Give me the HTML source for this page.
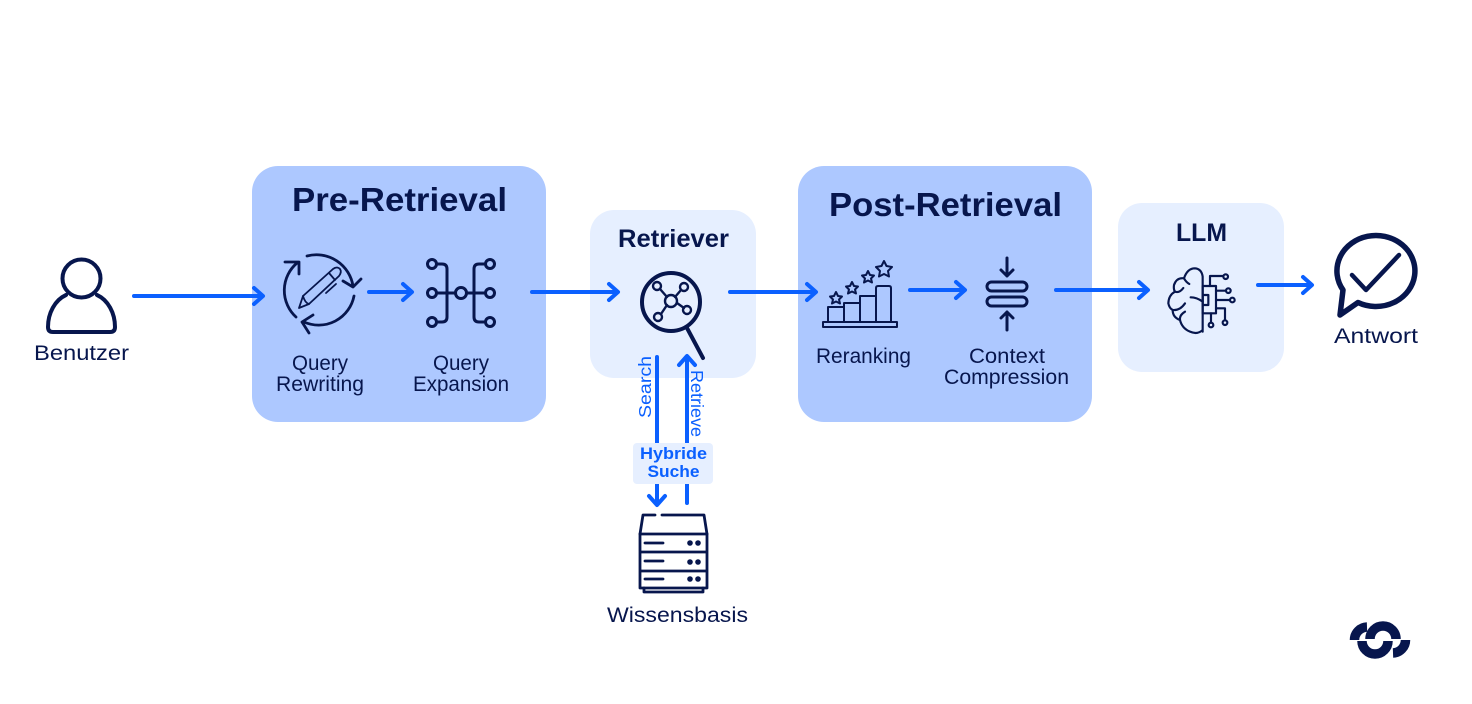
<!DOCTYPE html>
<html><head><meta charset="utf-8"><style>html,body{margin:0;padding:0;background:#fff}svg{display:block}text{font-family:"Liberation Sans",sans-serif;fill:#07164d;text-anchor:middle}.t{font-size:21.5px}.b{font-weight:bold}</style></head><body>
<svg width="1472" height="704" viewBox="0 0 1472 704" xmlns="http://www.w3.org/2000/svg">
<rect width="1472" height="704" fill="#fff"/>
<rect x="252" y="166" width="294" height="256" rx="26" fill="#adc8ff"/>
<rect x="798" y="166" width="294" height="256" rx="26" fill="#adc8ff"/>
<rect x="590" y="210" width="166" height="168" rx="24" fill="#e6efff"/>
<rect x="1118" y="203" width="166" height="169" rx="24" fill="#e6efff"/>

<text x="399.500" y="211" class="b" font-size="33" textLength="215" lengthAdjust="spacingAndGlyphs">Pre-Retrieval</text>
<text x="945.500" y="216" class="b" font-size="33" textLength="233" lengthAdjust="spacingAndGlyphs">Post-Retrieval</text>
<text x="673.500" y="247" class="b" font-size="25" textLength="111" lengthAdjust="spacingAndGlyphs">Retriever</text>
<text x="1201.500" y="241" class="b" font-size="25" textLength="51" lengthAdjust="spacingAndGlyphs">LLM</text>
<text x="81.500" y="360" class="t" textLength="95" lengthAdjust="spacingAndGlyphs">Benutzer</text>
<text x="320" y="370" class="t" textLength="56" lengthAdjust="spacingAndGlyphs">Query</text>
<text x="320" y="391" class="t" textLength="88" lengthAdjust="spacingAndGlyphs">Rewriting</text>
<text x="461" y="370" class="t" textLength="56" lengthAdjust="spacingAndGlyphs">Query</text>
<text x="461" y="391" class="t" textLength="96" lengthAdjust="spacingAndGlyphs">Expansion</text>
<text x="863.500" y="363" class="t" textLength="95" lengthAdjust="spacingAndGlyphs">Reranking</text>
<text x="1007" y="363" class="t" textLength="76" lengthAdjust="spacingAndGlyphs">Context</text>
<text x="1006.500" y="384" class="t" textLength="125" lengthAdjust="spacingAndGlyphs">Compression</text>
<text x="1376" y="343" class="t" textLength="84" lengthAdjust="spacingAndGlyphs">Antwort</text>
<text x="677.500" y="622" class="t" textLength="141" lengthAdjust="spacingAndGlyphs">Wissensbasis</text>

<!-- blue connectors -->
<g fill="none" stroke="#0b60ff" stroke-width="4" stroke-linecap="round" stroke-linejoin="round">
<path d="M134 296H262M254 288L263 296L254 304"/>
<path d="M369 292H411M403 284L412 292L403 300"/>
<path d="M532 292H617M609 284L618 292L609 300"/>
<path d="M730 292H815M807 284L816 292L807 300"/>
<path d="M910 290H964M956 282L965 290L956 298"/>
<path d="M1056 290H1147M1139 282L1148 290L1139 298"/>
<path d="M1258 285H1311M1303 277L1312 285L1303 293"/>
<path d="M657 357V443M657 484V504M649 496L657 505L665 496"/>
<path d="M687 357V443M687 484V503M679 365L687 356L695 365"/>
</g>
<rect x="633" y="443" width="80" height="41" rx="4" fill="#e6efff"/>
<text x="673.500" y="459" class="b" font-size="17" style="fill:#0b60ff" textLength="67" lengthAdjust="spacingAndGlyphs">Hybride</text>
<text x="673.500" y="477" class="b" font-size="17" style="fill:#0b60ff" textLength="52" lengthAdjust="spacingAndGlyphs">Suche</text>
<text transform="translate(651 387) rotate(-90)" font-size="17.500" style="fill:#0b60ff" textLength="62" lengthAdjust="spacingAndGlyphs">Search</text>
<text transform="translate(691 403.500) rotate(90)" font-size="17.500" style="fill:#0b60ff" textLength="67" lengthAdjust="spacingAndGlyphs">Retrieve</text>

<g fill="none" stroke="#07164d" stroke-linecap="round" stroke-linejoin="round">
<!-- user -->
<g stroke-width="4">
<circle cx="81.500" cy="278.500" r="19"/>
<path d="M66 295C55 300 48 313 48 327Q48 332 53 332H110Q115 332 115 327C115 313 108 300 97 295"/>
</g>
<!-- rewrite -->
<g stroke-width="2.800">
<path d="M307 256A37 37 0 0 1 353 286M343 281L353 287L361 279"/>
<path d="M354 296A36 36 0 0 1 304 322M313 315L302 322L309 333"/>
<path d="M296 317A36 36 0 0 1 297 263M285 262L299 262L299 274"/>
</g>
<g stroke-width="1.800">
<path d="M299 308L303 296L333 269Q337 266 340 269Q342 272 339 276L309 304Z"/>
<path d="M303 296Q305 303 309 304M329 273L335 280M336 284L326 293"/>
</g>
<!-- expansion -->
<g stroke-width="3">
<circle cx="432" cy="264" r="4.500"/><circle cx="432" cy="293" r="4.500"/><circle cx="432" cy="322" r="4.500"/>
<circle cx="461" cy="293" r="5.500"/>
<circle cx="490" cy="264" r="4.500"/><circle cx="490" cy="293" r="4.500"/><circle cx="490" cy="322" r="4.500"/>
<path d="M437 264H442Q447 264 447 269V317Q447 322 442 322H437M437 293H455"/>
<path d="M485 264H479Q474 264 474 269V317Q474 322 479 322H485M467 293H485"/>
</g>
<!-- retriever magnifier -->
<circle cx="671" cy="302" r="29" stroke-width="4"/>
<path d="M687 328L703 358" stroke-width="4"/>
<g stroke-width="2.400">
<circle cx="671" cy="301" r="6"/><circle cx="657" cy="286" r="4"/><circle cx="684" cy="287" r="4"/><circle cx="687" cy="310" r="4"/><circle cx="658" cy="317" r="4"/>
<path d="M660 289L667 297M681 290L675 297M684 308L677 303M661 314L667 305"/>
</g>
<!-- server -->
<g stroke-width="2.800">
<path d="M655 515H643L640 534H707L704 515H662"/>
<path d="M640 534V552H707V534M640 552V571H707V552M640 571V588H707V571"/>
<path d="M644 588V592H703V588"/>
<path d="M645 543H663M645 561H663M645 579H663"/>
</g>
<g fill="#07164d" stroke="none">
<circle cx="690" cy="543" r="2.800"/><circle cx="698" cy="543" r="2.800"/><circle cx="690" cy="562" r="2.800"/><circle cx="698" cy="562" r="2.800"/><circle cx="690" cy="579" r="2.800"/><circle cx="698" cy="579" r="2.800"/>
</g>
<!-- reranking -->
<g stroke-width="2">
<rect x="823" y="322" width="74" height="5"/>
<path d="M828 322V307H844V322M844 307V303H860V322M860 303V296H876V322M876 322V288Q876 286 878 286H889Q891 286 891 288V322"/>
<path d="M836 292L838 296L842 296.500L839 299.500L840 303.500L836 301.500L832 303.500L833 299.500L830 296.500L834 296Z"/>
<path d="M852 282L854 286L858 286.500L855 289.500L856 293.500L852 291.500L848 293.500L849 289.500L846 286.500L850 286Z"/>
<path d="M868 271L870 275L874 275.500L871 278.500L872 282.500L868 280.500L864 282.500L865 278.500L862 275.500L866 275Z"/>
<path d="M884 261L886.500 266L892 267L888 271L889 276.500L884 274L879 276.500L880 271L876 267L881.500 266Z"/>
</g>
<!-- compression -->
<g stroke-width="3">
<rect x="987" y="282" width="40" height="9" rx="4.500"/>
<rect x="987" y="297" width="40" height="9" rx="4.500"/>
<path d="M1007 258V276M1001 270L1007 276L1013 270M1007 330V312M1001 318L1007 312L1013 318"/>
</g>
<!-- brain -->
<g transform="translate(1160 260) scale(.33333)" stroke-width="6.500">
<path d="M128 215V50Q125 27 105 25Q82 25 72 55Q50 52 42 75Q40 88 45 95Q26 105 25 130Q28 145 38 150Q38 172 60 180Q66 205 90 215Q112 225 128 210"/>
<path d="M72 55Q78 66 88 72M45 95Q58 100 70 84M92 112Q110 112 128 125M38 150Q60 152 75 130M60 180Q58 165 75 155"/>
<rect x="128" y="78" width="40" height="82"/>
<rect x="128" y="105" width="17" height="30"/>
<path d="M150 78V48H190M168 92H198M168 120H210M168 145H195V180M153 160V188"/>
<circle cx="197" cy="50" r="7"/><circle cx="205" cy="92" r="7"/><circle cx="217" cy="120" r="7"/><circle cx="195" cy="188" r="7"/><circle cx="153" cy="195" r="7"/>
</g>
<!-- answer -->
<path d="M1343 290A39 35.500 0 1 1 1358 302.500L1340 315Z" stroke-width="5.500"/>
<path d="M1352 275L1366 290L1399 255" stroke-width="4.500"/>
</g>
<!-- logo -->
<g fill="none" stroke="#07164d" stroke-width="9.500">
<path d="M1354.500 640A13 13 0 0 1 1367 627"/>
<path d="M1405.500 640A13 13 0 0 1 1393 653"/>
<path d="M1370 639A13 13 0 0 1 1396 639"/>
<path d="M1362 641A13 13 0 0 0 1388 641"/>
</g>
</svg>
</body></html>
